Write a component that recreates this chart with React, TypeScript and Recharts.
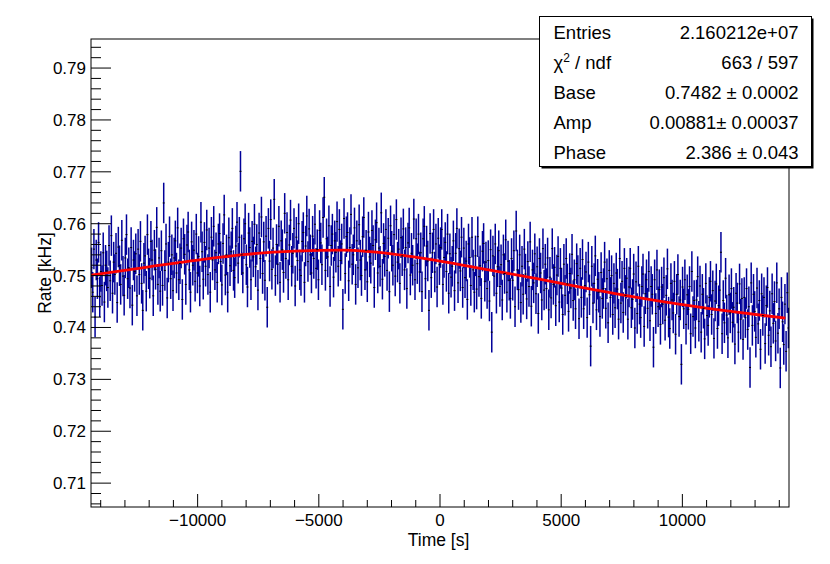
import React from 'react';
import { ComposedChart, Scatter, Line, XAxis, YAxis, ErrorBar } from 'recharts';

// histogram binning: 600 bins of 48 s over +-4 h
const binStart = -14400;
const binWidth = 48;
const binError = 0.0039;

const rateA = [
  0.7515, 0.7468, 0.7551, 0.7420, 0.7530, 0.7494, 0.7564, 0.7459, 0.7508, 0.7481,
  0.7544, 0.7449, 0.7520, 0.7509, 0.7477, 0.7558, 0.7490, 0.7577, 0.7466, 0.7526,
  0.7502, 0.7543, 0.7448, 0.7555, 0.7519, 0.7483, 0.7568, 0.7499, 0.7462, 0.7534,
  0.7579, 0.7494, 0.7515, 0.7476, 0.7554, 0.7443, 0.7530, 0.7508, 0.7542, 0.7461,
  0.7551, 0.7502, 0.7566, 0.7485, 0.7433, 0.7524, 0.7538, 0.7470, 0.7579, 0.7513,
  0.7495, 0.7566, 0.7530, 0.7461, 0.7549, 0.7512, 0.7593, 0.7483, 0.7534, 0.7470,
  0.7548, 0.7481, 0.7640, 0.7510, 0.7561, 0.7457, 0.7526, 0.7575, 0.7494, 0.7540,
  0.7471, 0.7534, 0.7567, 0.7505, 0.7592, 0.7492, 0.7523, 0.7553, 0.7454, 0.7571,
  0.7541, 0.7483, 0.7559, 0.7584, 0.7511, 0.7468, 0.7565, 0.7520, 0.7549, 0.7489,
  0.7580, 0.7505, 0.7537, 0.7480, 0.7603, 0.7546, 0.7493, 0.7564, 0.7518, 0.7588,
  0.7502, 0.7553, 0.7468, 0.7574, 0.7530, 0.7595, 0.7511, 0.7544, 0.7487, 0.7561,
  0.7581, 0.7527, 0.7482, 0.7562, 0.7617, 0.7501, 0.7540, 0.7468, 0.7573, 0.7519,
  0.7546, 0.7591, 0.7510, 0.7496, 0.7557, 0.7603, 0.7524, 0.7574, 0.7701, 0.7540,
  0.7505, 0.7571, 0.7600, 0.7521, 0.7478, 0.7582, 0.7554, 0.7492, 0.7566, 0.7536,
  0.7599, 0.7517, 0.7560, 0.7472, 0.7582, 0.7533, 0.7613, 0.7504, 0.7565, 0.7491,
];

const rateB = [
  0.7576, 0.7439, 0.7591, 0.7528, 0.7608, 0.7512, 0.7553, 0.7647, 0.7500, 0.7560,
  0.7522, 0.7595, 0.7487, 0.7567, 0.7550, 0.7506, 0.7620, 0.7533, 0.7583, 0.7492,
  0.7559, 0.7607, 0.7518, 0.7543, 0.7591, 0.7480, 0.7574, 0.7529, 0.7600, 0.7511,
  0.7500, 0.7566, 0.7583, 0.7487, 0.7557, 0.7615, 0.7527, 0.7590, 0.7540, 0.7505,
  0.7576, 0.7533, 0.7599, 0.7514, 0.7550, 0.7492, 0.7587, 0.7563, 0.7521, 0.7612,
  0.7651, 0.7510, 0.7571, 0.7536, 0.7596, 0.7479, 0.7558, 0.7580, 0.7497, 0.7567,
  0.7545, 0.7604, 0.7518, 0.7589, 0.7529, 0.7561, 0.7435, 0.7610, 0.7504, 0.7575,
  0.7583, 0.7490, 0.7554, 0.7618, 0.7522, 0.7540, 0.7592, 0.7483, 0.7567, 0.7515,
  0.7598, 0.7530, 0.7500, 0.7575, 0.7612, 0.7511, 0.7549, 0.7488, 0.7584, 0.7536,
  0.7524, 0.7587, 0.7558, 0.7477, 0.7569, 0.7602, 0.7505, 0.7553, 0.7518, 0.7621,
  0.7493, 0.7562, 0.7537, 0.7589, 0.7510, 0.7572, 0.7469, 0.7596, 0.7547, 0.7520,
  0.7579, 0.7499, 0.7608, 0.7526, 0.7551, 0.7485, 0.7573, 0.7538, 0.7590, 0.7511,
  0.7554, 0.7475, 0.7563, 0.7592, 0.7501, 0.7543, 0.7520, 0.7609, 0.7492, 0.7571,
  0.7523, 0.7580, 0.7507, 0.7544, 0.7469, 0.7571, 0.7595, 0.7494, 0.7557, 0.7528,
  0.7433, 0.7581, 0.7496, 0.7544, 0.7589, 0.7507, 0.7561, 0.7478, 0.7572, 0.7521,
];

const rateC = [
  0.7554, 0.7589, 0.7483, 0.7535, 0.7564, 0.7508, 0.7580, 0.7466, 0.7542, 0.7497,
  0.7518, 0.7567, 0.7471, 0.7543, 0.7591, 0.7486, 0.7552, 0.7509, 0.7574, 0.7477,
  0.7553, 0.7496, 0.7528, 0.7454, 0.7561, 0.7535, 0.7481, 0.7574, 0.7511, 0.7468,
  0.7538, 0.7474, 0.7575, 0.7498, 0.7519, 0.7456, 0.7547, 0.7562, 0.7489, 0.7526,
  0.7475, 0.7529, 0.7451, 0.7550, 0.7391, 0.7538, 0.7499, 0.7561, 0.7466, 0.7517,
  0.7548, 0.7479, 0.7521, 0.7453, 0.7540, 0.7504, 0.7569, 0.7468, 0.7528, 0.7491,
  0.7456, 0.7533, 0.7491, 0.7548, 0.7440, 0.7586, 0.7511, 0.7473, 0.7540, 0.7448,
  0.7518, 0.7464, 0.7551, 0.7503, 0.7455, 0.7527, 0.7479, 0.7565, 0.7441, 0.7511,
  0.7486, 0.7542, 0.7465, 0.7517, 0.7427, 0.7533, 0.7505, 0.7453, 0.7552, 0.7472,
  0.7522, 0.7475, 0.7534, 0.7434, 0.7497, 0.7457, 0.7552, 0.7483, 0.7516, 0.7442,
  0.7501, 0.7537, 0.7449, 0.7514, 0.7476, 0.7425, 0.7522, 0.7462, 0.7533, 0.7484,
  0.7431, 0.7504, 0.7476, 0.7541, 0.7452, 0.7492, 0.7436, 0.7523, 0.7500, 0.7417,
  0.7514, 0.7458, 0.7531, 0.7436, 0.7481, 0.7507, 0.7419, 0.7526, 0.7463, 0.7364,
  0.7518, 0.7447, 0.7485, 0.7538, 0.7434, 0.7493, 0.7468, 0.7421, 0.7506, 0.7456,
  0.7475, 0.7526, 0.7437, 0.7494, 0.7409, 0.7510, 0.7458, 0.7500, 0.7425, 0.7485,
];

const rateD = [
  0.7438, 0.7505, 0.7474, 0.7416, 0.7533, 0.7447, 0.7489, 0.7429, 0.7514, 0.7462,
  0.7495, 0.7416, 0.7478, 0.7514, 0.7438, 0.7454, 0.7503, 0.7399, 0.7488, 0.7427,
  0.7518, 0.7445, 0.7419, 0.7479, 0.7503, 0.7402, 0.7465, 0.7492, 0.7437, 0.7508,
  0.7413, 0.7479, 0.7464, 0.7362, 0.7492, 0.7427, 0.7511, 0.7440, 0.7473, 0.7406,
  0.7478, 0.7445, 0.7496, 0.7414, 0.7462, 0.7513, 0.7420, 0.7398, 0.7485, 0.7453,
  0.7428, 0.7489, 0.7387, 0.7464, 0.7502, 0.7421, 0.7453, 0.7329, 0.7478, 0.7436,
  0.7492, 0.7406, 0.7463, 0.7435, 0.7479, 0.7388, 0.7508, 0.7421, 0.7452, 0.7399,
  0.7453, 0.7498, 0.7412, 0.7480, 0.7391, 0.7464, 0.7437, 0.7378, 0.7485, 0.7423,
  0.7404, 0.7458, 0.7489, 0.7425, 0.7471, 0.7379, 0.7451, 0.7484, 0.7398, 0.7442,
  0.7472, 0.7545, 0.7388, 0.7452, 0.7409, 0.7495, 0.7424, 0.7380, 0.7463, 0.7428,
  0.7475, 0.7410, 0.7439, 0.7368, 0.7466, 0.7447, 0.7391, 0.7484, 0.7416, 0.7456,
  0.7377, 0.7458, 0.7419, 0.7475, 0.7396, 0.7440, 0.7323, 0.7486, 0.7404, 0.7464,
  0.7431, 0.7381, 0.7476, 0.7407, 0.7452, 0.7358, 0.7465, 0.7423, 0.7458, 0.7369,
  0.7442, 0.7477, 0.7385, 0.7432, 0.7363, 0.7465, 0.7408, 0.7450, 0.7374, 0.7486,
  0.7389, 0.7436, 0.7322, 0.7458, 0.7411, 0.7367, 0.7445, 0.7354, 0.7467, 0.7399,
];

// fitted curve
const fitTimes = [-14400, -12000, -10000, -8000, -6000, -4000, -2000, 0, 2000, 4000, 6000, 8000, 10000, 12000, 14250];
const fitRates = [0.7501, 0.7517, 0.7530, 0.7541, 0.7547, 0.7549, 0.7542, 0.7528, 0.7511, 0.7494, 0.7476, 0.7459, 0.7444, 0.7431, 0.7418];

const statRows = [
  { name: 'Entries', value: '2.160212e+07' },
  { name: 'chi2', value: '663 / 597' },
  { name: 'Base', value: '0.7482 \u00b1 0.0002' },
  { name: 'Amp', value: '0.00881\u00b1 0.00037' },
  { name: 'Phase', value: '2.386 \u00b1 0.043' },
];

const rates = [...rateA, ...rateB, ...rateC, ...rateD];
const histData = rates.map((rate, i) => ({ t: binStart + binWidth * (i + 0.5), rate, err: binError }));
const fitData = fitTimes.map((t, i) => ({ t, rate: fitRates[i] }));

const xTicks: number[] = [];
for (let t = -14000; t <= 14000; t += 1000) xTicks.push(t);
const yTicks: number[] = [];
for (let k = 353; k <= 397; k++) yTicks.push(k / 500);

const FONT = '"Liberation Sans", Arial, Helvetica, sans-serif';
const W = 830;
const H = 564;
const plot = { left: 91, top: 39, right: 789, bottom: 507 };

// tickSize + tickMargin, used to get back to the axis line
const TICK_OFF = 10;

const XTick = (props: any) => {
  const { x, y, payload } = props;
  const v = payload.value;
  const axisY = y - TICK_OFF;
  const major = v % 5000 === 0;
  const label = v < 0 ? '\u2212' + Math.abs(v) : String(v);
  return (
    <g>
      <line x1={x} x2={x} y1={axisY} y2={axisY - (major ? 13 : 7)} stroke="#000" strokeWidth={1} />
      {major && (
        <text x={x} y={axisY + 18.5} textAnchor="middle" fontSize={17} fontFamily={FONT} fill="#000">
          {label}
        </text>
      )}
    </g>
  );
};

const YTick = (props: any) => {
  const { x, y, payload } = props;
  const k = Math.round(payload.value * 500);
  const axisX = x + TICK_OFF;
  const major = k % 5 === 0;
  return (
    <g>
      <line x1={axisX} x2={axisX + (major ? 20 : 10)} y1={y} y2={y} stroke="#000" strokeWidth={1} />
      {major && (
        <text x={axisX - 5} y={y + 6} textAnchor="end" fontSize={17} fontFamily={FONT} fill="#000">
          {(k / 500).toFixed(2)}
        </text>
      )}
    </g>
  );
};

const binMarker = (props: any) => {
  const { cx, cy } = props;
  return <rect x={cx - 1} y={cy - 0.5} width={2} height={1} fill="#000" />;
};

const StatsBox = () => {
  const bx = 539.5;
  const by = 16.5;
  const bw = 272;
  const bh = 150;
  return (
    <g fontFamily={FONT} fontSize={18.5} fill="#000">
      <rect x={bx + 2} y={by + 2} width={bw} height={bh} fill="#000" />
      <rect x={bx} y={by} width={bw} height={bh} fill="#fff" stroke="#000" strokeWidth={1} />
      {statRows.map((row, i) => {
        const ty = 39 + 30 * i;
        return (
          <g key={row.name}>
            {row.name === 'chi2' ? (
              <text x={553.5} y={ty}>
                {'\u03c7'}
                <tspan dy={-7.5} fontSize={12}>2</tspan>
                <tspan dy={7.5}>{' / ndf'}</tspan>
              </text>
            ) : (
              <text x={553.5} y={ty}>{row.name}</text>
            )}
            <text x={798.5} y={ty} textAnchor="end">{row.value}</text>
          </g>
        );
      })}
    </g>
  );
};

export default function App() {
  return (
    <div style={{ position: 'relative', width: W, height: H, background: '#fff' }}>
      <style>{'body{margin:0;}'}</style>
      <ComposedChart
        width={W}
        height={H}
        margin={{ top: plot.top, right: W - plot.right, bottom: H - plot.bottom - 40, left: plot.left - 60 }}
      >
        <XAxis
          type="number"
          dataKey="t"
          domain={[-14400, 14400]}
          allowDataOverflow
          ticks={xTicks}
          interval={0}
          height={40}
          axisLine={false}
          tickLine={false}
          tickSize={8}
          tickMargin={2}
          tick={<XTick />}
        />
        <YAxis
          type="number"
          domain={[0.7054, 0.7956]}
          allowDataOverflow
          ticks={yTicks}
          interval={0}
          width={60}
          axisLine={false}
          tickLine={false}
          tickSize={8}
          tickMargin={2}
          tick={<YTick />}
        />
        <Scatter data={histData} dataKey="rate" shape={binMarker} isAnimationActive={false}>
          <ErrorBar dataKey="err" direction="y" width={0} stroke="#000099" strokeWidth={1.5} />
        </Scatter>
        <Line
          data={fitData}
          dataKey="rate"
          type="monotone"
          stroke="#ff0000"
          strokeWidth={2.8}
          dot={false}
          activeDot={false}
          isAnimationActive={false}
        />
      </ComposedChart>
      <svg width={W} height={H} style={{ position: 'absolute', left: 0, top: 0, pointerEvents: 'none' }}>
        <rect
          x={plot.left}
          y={plot.top}
          width={plot.right - plot.left}
          height={plot.bottom - plot.top}
          fill="none"
          stroke="#000"
          strokeWidth={1}
        />
        <text x={438.5} y={545.5} textAnchor="middle" fontSize={17.5} fontFamily={FONT}>
          Time [s]
        </text>
        <text
          x={51}
          y={273}
          textAnchor="middle"
          fontSize={17.5}
          fontFamily={FONT}
          transform="rotate(-90 51 273)"
        >
          Rate [kHz]
        </text>
        <StatsBox />
      </svg>
    </div>
  );
}
